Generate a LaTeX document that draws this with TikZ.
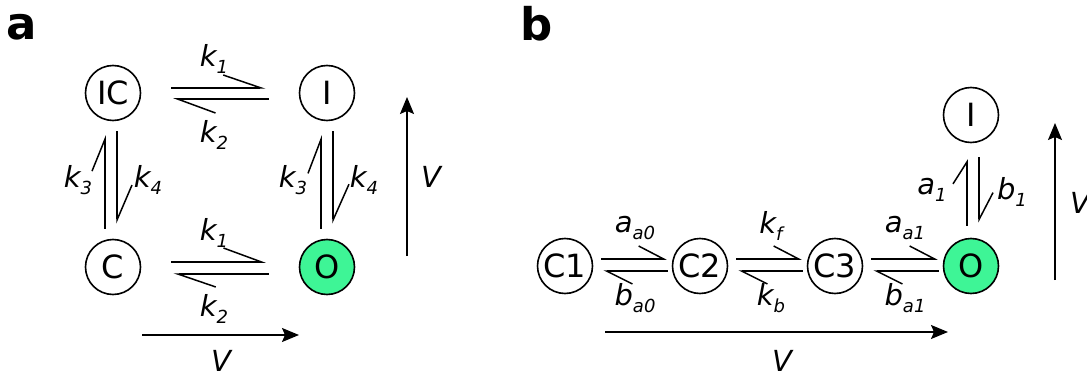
\documentclass[tikz,border=0pt]{standalone}
\usepackage{fontspec}
\setmainfont{DejaVu Sans}
\usetikzlibrary{arrows.meta,calc}
\definecolor{openstate}{RGB}{62,245,150}
% rate constant with a lowered subscript
\newcommand\rate[2]{#1\raisebox{-7pt}{\fontsize{18}{20}\selectfont #2}}

\begin{document}
\begin{tikzpicture}[x=1pt,y=-1pt,
  state/.style={circle,draw,line width=1.6pt,minimum size=55pt,inner sep=0pt,
                font=\fontsize{32}{34}\selectfont},
  open/.style={state,fill=openstate},
  ratelabel/.style={inner sep=0pt,font=\fontsize{29}{32}\selectfont\itshape},
  panel/.style={inner sep=0pt,font=\fontsize{45}{48}\selectfont\bfseries},
  harp/.style 2 args={line width=1.5pt,
                      -{Straight Barb[harpoon,length=#1pt,width=#2pt]}},
  varrow/.style={line width=1.5pt,-{Stealth[length=17pt,width=14pt,inset=3pt]}}
]
\useasboundingbox (0,0) rectangle (1087,377);

% ---------------- panel a ----------------
\node[panel] (pa) at (22,27.5) {a};

\node[state] (IC) at (113,93)  {IC};
\node[state] (Ia) at (327,93)  {I};
\node[state] (Ca) at (113,267) {C};
\node[open]  (Oa) at (327,267) {O};

% IC <-> I
\draw[harp={38}{26}] ([shift={(30,-5)}]IC.east) -- ([shift={(-33,-5)}]Ia.west);
\draw[harp={38}{28}] ([shift={(-30,6)}]Ia.west) -- ([shift={(32,6)}]IC.east);
\node[ratelabel] (k1a) at (214,59)  {\rate{k}{1}};
\node[ratelabel] (k2a) at (214,135) {\rate{k}{2}};

% C <-> O
\draw[harp={38}{28}] ([shift={(30,-5)}]Ca.east) -- ([shift={(-33,-5)}]Oa.west);
\draw[harp={38}{26}] ([shift={(-30,7)}]Oa.west) -- ([shift={(32,7)}]Ca.east);
\node[ratelabel] (k1b) at (214,233) {\rate{k}{1}};
\node[ratelabel] (k2b) at (214,309) {\rate{k}{2}};

% IC <-> C
\draw[harp={32}{26}] ([shift={(-8,-10)}]Ca.north) -- ([shift={(-8,14)}]IC.south);
\draw[harp={35}{30}] ([shift={(4,10)}]IC.south) -- ([shift={(4,-15)}]Ca.north);
\node[ratelabel] (k3a) at (78,180)  {\rate{k}{3}};
\node[ratelabel] (k4a) at (148,180) {\rate{k}{4}};

% I <-> O
\draw[harp={34}{26}] ([shift={(-6,-10)}]Oa.north) -- ([shift={(-6,14)}]Ia.south);
\draw[harp={36}{32}] ([shift={(6,10)}]Ia.south) -- ([shift={(6,-15)}]Oa.north);
\node[ratelabel] (k3b) at (293,180) {\rate{k}{3}};
\node[ratelabel] (k4b) at (364,180) {\rate{k}{4}};

% voltage arrows
\coordinate (vha0) at (142,335);
\coordinate (vha1) at (299,335);
\draw[varrow] (vha0) -- (vha1);
\node[ratelabel] (Vha) at (221,361) {V};
\coordinate (vva0) at (407,256);
\coordinate (vva1) at (407,97);
\draw[varrow] (vva0) -- (vva1);
\node[ratelabel] (Vva) at (431,177) {V};

% ---------------- panel b ----------------
\node[panel] (pb) at (537,24) {b};

\node[state] (C1) at (565,266) {C1};
\node[state] (C2) at (700,266) {C2};
\node[state] (C3) at (835,266) {C3};
\node[open]  (Ob) at (971,266) {O};
\node[state] (Ib) at (971,115) {I};

% C1 <-> C2
\draw[harp={25}{26}] ([shift={(8,-7)}]C1.east) -- ([shift={(-5,-7)}]C2.west);
\draw[harp={26}{26}] ([shift={(-4,5)}]C2.west) -- ([shift={(10,5)}]C1.east);
\node[ratelabel] (aa0) at (635,228) {\rate{a}{a0}};
\node[ratelabel] (ba0) at (635,298) {\rate{b}{a0}};

% C2 <-> C3
\draw[harp={25}{26}] ([shift={(8,-7)}]C2.east) -- ([shift={(-5,-7)}]C3.west);
\draw[harp={26}{26}] ([shift={(-4,5)}]C3.west) -- ([shift={(10,5)}]C2.east);
\node[ratelabel] (kf) at (771,226) {\rate{k}{f}};
\node[ratelabel] (kb) at (771,298) {\rate{k}{b}};

% C3 <-> O
\draw[harp={25}{26}] ([shift={(8,-7)}]C3.east) -- ([shift={(-5,-7)}]Ob.west);
\draw[harp={26}{26}] ([shift={(-4,5)}]Ob.west) -- ([shift={(10,5)}]C3.east);
\node[ratelabel] (aa1) at (905,228) {\rate{a}{a1}};
\node[ratelabel] (ba1) at (905,298) {\rate{b}{a1}};

% O <-> I
\draw[harp={22}{28}] ([shift={(-4,-12)}]Ob.north) -- ([shift={(-4,16)}]Ib.south);
\draw[harp={27}{28}] ([shift={(8,14)}]Ib.south) -- ([shift={(8,-15)}]Ob.north);
\node[ratelabel] (a1) at (932,190)  {\rate{a}{1}};
\node[ratelabel] (b1) at (1012,192) {\rate{b}{1}};

% voltage arrows
\coordinate (vhb0) at (605,332);
\coordinate (vhb1) at (948,332);
\draw[varrow] (vhb0) -- (vhb1);
\node[ratelabel] (Vhb) at (782,361) {V};
\coordinate (vvb0) at (1055,280);
\coordinate (vvb1) at (1055,123);
\draw[varrow] (vvb0) -- (vvb1);
\node[ratelabel] (Vvb) at (1080,203) {V};
\end{tikzpicture}
\end{document}
